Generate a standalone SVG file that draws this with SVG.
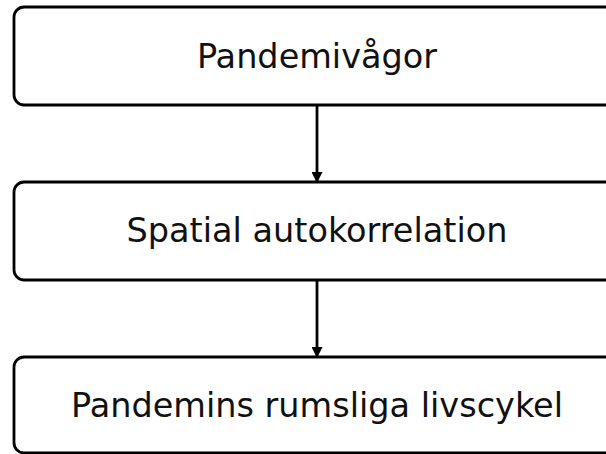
<svg xmlns="http://www.w3.org/2000/svg" width="606" height="454" viewBox="0 0 606 454">
<style>
.box{fill:#fff;stroke:#000;stroke-width:2.8}
.lbl{font-family:"DejaVu Sans",sans-serif;font-size:33.5px;fill:#111;text-anchor:middle}
.edge{stroke:#000;stroke-width:2.8;fill:none}
</style>
<defs>
<marker id="ah" markerWidth="11" markerHeight="11" refX="9" refY="5.5" orient="auto" markerUnits="userSpaceOnUse">
<path d="M0,0 L11,5.5 L0,11 z" fill="#000"/>
</marker>
</defs>
<rect width="606" height="454" fill="#fff"/>
<g id="connectors">
<line class="edge" x1="317" y1="105" x2="317" y2="181" marker-end="url(#ah)"/>
<line class="edge" x1="317" y1="280" x2="317" y2="356" marker-end="url(#ah)"/>
</g>
<g id="n1">
<rect class="box" x="14" y="7" width="606" height="98" rx="10"/>
<text class="lbl" x="317" y="68">Pandemivågor</text>
</g>
<g id="n2">
<rect class="box" x="14" y="182" width="606" height="98" rx="10"/>
<text class="lbl" x="317" y="242">Spatial autokorrelation</text>
</g>
<g id="n3">
<rect class="box" x="14" y="357" width="606" height="96" rx="10"/>
<text class="lbl" x="317" y="417">Pandemins rumsliga livscykel</text>
</g>
</svg>
